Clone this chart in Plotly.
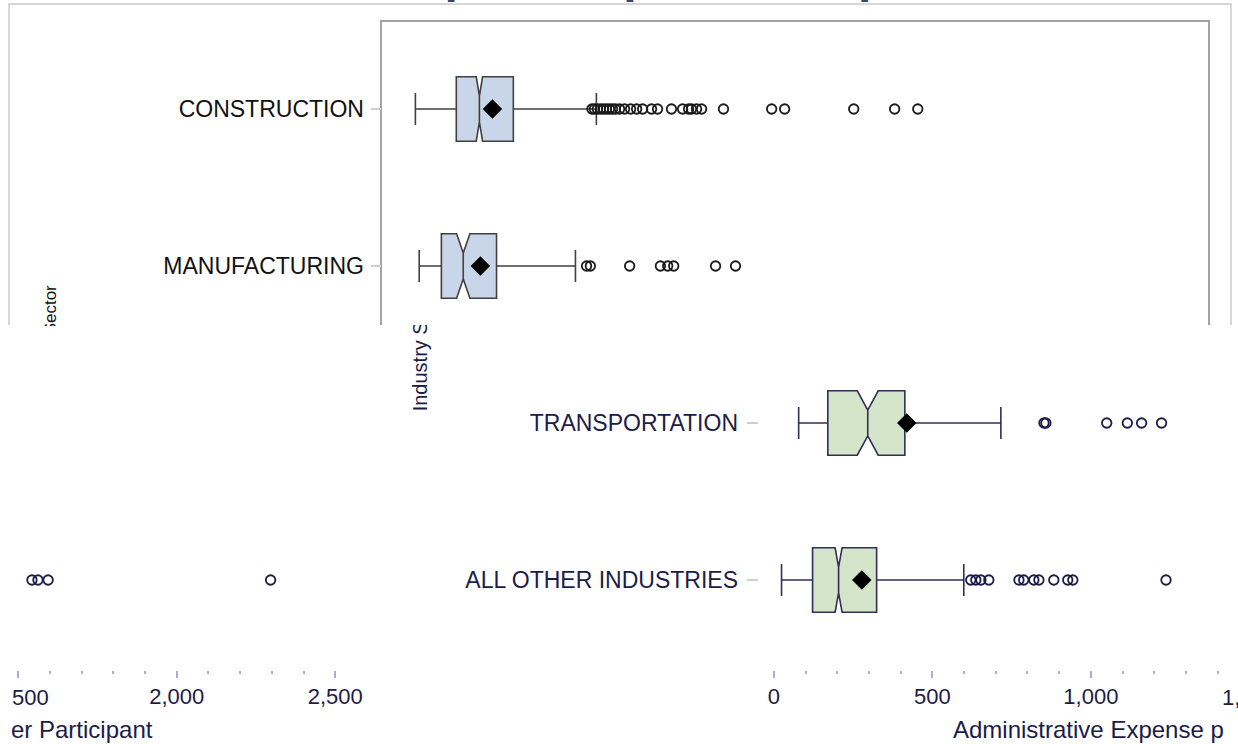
import plotly.graph_objects as go

W, H = 1238, 744
RW = 1229  # effective horizontal pixel span observed in the rendered picture

# ---------------- data ----------------
categories = ["CONSTRUCTION", "MANUFACTURING", "TRANSPORTATION", "ALL OTHER INDUSTRIES"]
lower_fence = [57, 69, 78, 24]
q1 = [186, 139, 170, 122]
median = [259, 208, 296, 204]
q3 = [366, 313, 413, 324]
upper_fence = [628, 562, 716, 599]
mean = [300, 262, 419, 277]
notch_span = [10, 21, 33, 11]

outliers_construction = [614, 622, 631, 641, 650, 660, 669, 679, 688, 701, 717, 736, 755, 774,
                         802, 821, 865, 900, 919, 928, 944, 960, 1029, 1181, 1222, 1440, 1569, 1642]
outliers_manufacturing = [597, 609, 733, 830, 853, 872, 1004, 1067]
outliers_transportation = [852, 858, 1050, 1115, 1160, 1223]
outliers_all_other = [621, 637, 653, 678, 773, 788, 820, 836, 883, 927, 943, 1237,
                      1543, 1562, 1594, 2296]
outliers = [outliers_construction, outliers_manufacturing, outliers_transportation, outliers_all_other]

x_ticks = [0, 500, 1000, 1500, 2000, 2500]
tick_labels = ["0", "500", "1,000", "1,500", "2,000", "2,500"]

title_text = "Administrative Expenses per Participant, All Plans"
x_title = "Administrative Expense per Participant"
y_title = "Industry Sector"

# ---------------- styling ----------------
FONT = "Liberation Sans, Arial, sans-serif"
fill_colors = ["#c9d5e8", "#c9d5e8", "#d5e5c9", "#d5e5c9"]
line_colors = ["#404040", "#404040", "#2e2e58", "#2e2e58"]
dot_colors = ["#1a1a1a", "#1a1a1a", "#1c1c48", "#1c1c48"]
NAVY = "#1c1c48"
TICK_C = "#aab0d2"
INNER = "#a3a3a3"
OUTER = "#d6d6d6"


def fx(x):
    return x / RW


def fy(y):
    return 1 - y / H


S = 0.3167  # pixels per unit on the value axis
BR0 = 773.3   # pixel of value 0 in the lower-right piece
TOP0 = 397    # pixel of value 0 in the upper piece
BL1500 = 18.3  # pixel of value 1500 in the lower-left piece
top_range = [(382 - TOP0) / S, (1207 - TOP0) / S]
br_range = [(758 - BR0) / S, (RW - BR0) / S]
bl_range = [1500 + (0 - BL1500) / S, 1500 + (354 - BL1500) / S]
CAT_Y0, CAT_DY = 109, 157
top_yrange = [(325 - CAT_Y0) / CAT_DY, (22 - CAT_Y0) / CAT_DY]
bot_yrange = [(670 - CAT_Y0) / CAT_DY, (325 - CAT_Y0) / CAT_DY]

fig = go.Figure()


def add_pane(xa, ya):
    for i, cat in enumerate(categories):
        fig.add_trace(go.Box(
            y=[cat], q1=[q1[i]], median=[median[i]], q3=[q3[i]],
            lowerfence=[lower_fence[i]], upperfence=[upper_fence[i]],
            notched=True, notchspan=[notch_span[i]], notchwidth=0.3,
            orientation="h", width=0.41, whiskerwidth=0.5,
            fillcolor=fill_colors[i], line=dict(color=line_colors[i], width=1.6),
            boxpoints=False, xaxis=xa, yaxis=ya, showlegend=False, hoverinfo="skip"))
    for i, cat in enumerate(categories):
        fig.add_trace(go.Scatter(
            x=outliers[i], y=[cat] * len(outliers[i]), mode="markers",
            marker=dict(symbol="circle-open", size=9.5, color=dot_colors[i],
                        line=dict(width=1.8, color=dot_colors[i])),
            xaxis=xa, yaxis=ya, showlegend=False, hoverinfo="skip"))
    fig.add_trace(go.Scatter(
        x=mean, y=categories, mode="markers",
        marker=dict(symbol="diamond", size=15, color="black"),
        xaxis=xa, yaxis=ya, showlegend=False, hoverinfo="skip"))


add_pane("x", "y")
add_pane("x2", "y2")
add_pane("x3", "y3")
fig.add_trace(go.Scatter(x=[], y=[], xaxis="x4", yaxis="y4", showlegend=False, hoverinfo="skip"))

cat_axis = dict(type="category", categoryorder="array", categoryarray=categories,
                showgrid=False, zeroline=False)
val_ticks = dict(tickmode="array", tickvals=x_ticks, ticktext=tick_labels,
                 ticks="outside", ticklen=7, tickwidth=2, tickcolor=TICK_C,
                 minor=dict(tickmode="linear", tick0=0, dtick=100, ticks="outside",
                            ticklen=3, tickwidth=2, tickcolor=TICK_C),
                 showline=False, showgrid=False, zeroline=False,
                 tickfont=dict(family=FONT, size=22, color=NAVY))

fig.update_layout(
    width=W, height=H, margin=dict(l=0, r=0, t=0, b=0),
    paper_bgcolor="white", plot_bgcolor="rgba(0,0,0,0)", showlegend=False,
    xaxis=dict(domain=[fx(382), fx(1207)], range=top_range, anchor="y", side="top",
               showline=True, linecolor=INNER, linewidth=1.5, ticks="",
               showticklabels=False, showgrid=False, zeroline=False),
    yaxis=dict(domain=[fy(325), fy(22)], anchor="x", range=top_yrange,
               showline=True, mirror=True, linecolor=INNER, linewidth=1.5,
               ticks="outside", ticklen=10, tickwidth=2, tickcolor="#cfcfcf",
               ticklabelstandoff=2, tickfont=dict(family=FONT, size=23, color="#111111"),
               **cat_axis),
    xaxis2=dict(domain=[fx(758), 1], range=br_range, anchor="y2", **val_ticks),
    yaxis2=dict(domain=[fy(670), fy(325)], anchor="x2", range=bot_yrange,
                showline=False, ticks="outside", ticklen=11, tickwidth=2, tickcolor="#cfcfcf",
                ticklabelstandoff=4, tickfont=dict(family=FONT, size=23, color=NAVY),
                **cat_axis),
    xaxis3=dict(domain=[0, fx(354)], range=bl_range, anchor="y3", **val_ticks),
    yaxis3=dict(domain=[fy(670), fy(325)], anchor="x3", range=bot_yrange,
                showline=False, ticks="", showticklabels=False, **cat_axis),
    xaxis4=dict(domain=[fx(10), 1], range=[0, 1], anchor="y4", side="top",
                showline=True, linecolor=OUTER, linewidth=1.5, ticks="",
                showticklabels=False, showgrid=False, zeroline=False),
    yaxis4=dict(domain=[fy(325), fy(4.5)], range=[0, 1], anchor="x4",
                showline=True, mirror=True, linecolor=OUTER, linewidth=1.5, ticks="",
                showticklabels=False, showgrid=False, zeroline=False),
)

ann = []
# title (only its descenders show at the very top)
ann.append(dict(text="<b>" + title_text + "</b>", xref="paper", yref="paper",
                x=fx(37), y=fy(4), xanchor="left", yanchor="bottom", showarrow=False,
                font=dict(family=FONT, size=48, color="#34486e")))
# y-axis titles
ann.append(dict(text=y_title, textangle=-90, xref="paper", yref="paper",
                x=fx(50), y=fy(283), xanchor="center", yanchor="top", showarrow=False,
                font=dict(family=FONT, size=17, color="#111111")))
ann.append(dict(text=y_title[:10], textangle=-90, xref="paper", yref="paper",
                x=fx(420), y=fy(413), xanchor="center", yanchor="bottom", showarrow=False,
                font=dict(family=FONT, size=20, color=NAVY)))
# white covers where the picture is cut
ann.append(dict(text=" ", xref="paper", yref="paper", x=fx(28), y=fy(325.5),
                xanchor="left", yanchor="top", width=50, height=140, bgcolor="white",
                borderpad=0, borderwidth=0, showarrow=False))
ann.append(dict(text=" ", xref="paper", yref="paper", x=fx(400), y=fy(325),
                xanchor="left", yanchor="bottom", width=38, height=30, bgcolor="white",
                borderpad=0, borderwidth=0, showarrow=False))
# x-axis title, split by the cut of the picture
ann.append(dict(text=x_title[:24], xref="paper", yref="paper", x=fx(950), y=fy(729),
                xanchor="left", yanchor="middle", showarrow=False,
                font=dict(family=FONT, size=24, color=NAVY)))
ann.append(dict(text=x_title[24:], xref="paper", yref="paper", x=fx(9), y=fy(729),
                xanchor="left", yanchor="middle", showarrow=False,
                font=dict(family=FONT, size=24, color=NAVY)))
# tick label partly visible at the right edge of the lower-right piece
ann.append(dict(text=tick_labels[3], xref="paper", yref="paper", x=fx(BR0 + S * x_ticks[3]),
                y=fy(697), xanchor="center", yanchor="middle", showarrow=False,
                font=dict(family=FONT, size=22, color=NAVY)))
# tick label partly visible at the left edge of the lower-left piece
ann.append(dict(text=tick_labels[3][2:], xref="paper", yref="paper", x=fx(10),
                y=fy(697), xanchor="left", yanchor="middle", showarrow=False,
                font=dict(family=FONT, size=22, color=NAVY)))
fig.update_layout(annotations=ann)

fig.write_html("out.html", config={"displayModeBar": False},
               post_script="document.body.style.margin='0px';document.body.style.overflow='hidden';")
